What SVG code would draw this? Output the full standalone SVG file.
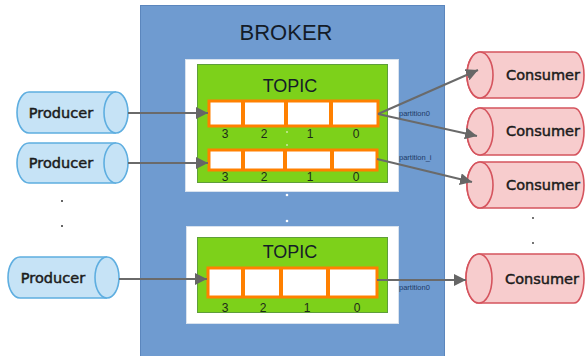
<svg xmlns="http://www.w3.org/2000/svg" width="586" height="356" viewBox="0 0 586 356">
  <style>
    .broker { fill: #6f9bd0; stroke: #5b86bd; stroke-width: 1; }
    .frame { fill: #ffffff; stroke: #d8e2ee; stroke-width: 1; }
    .topic { fill: #7dd11a; stroke: #5e9e3a; stroke-width: 1; }
    .part { fill: #ffffff; stroke: #ff8000; stroke-width: 3; }
    .div { stroke: #ff8000; stroke-width: 4; }
    .title { font-family: "Liberation Sans", Arial, sans-serif; fill: #141c28; text-anchor: middle; }
    .idx { font-family: "Liberation Sans", Arial, sans-serif; font-size: 12px; fill: #1e2a1a; text-anchor: middle; }
    .plabel { font-family: "Liberation Sans", Arial, sans-serif; font-size: 7.5px; fill: #1d3a66; }
    .prod { fill: #c6e3f6; stroke: #5eaee0; stroke-width: 1.6; }
    .cons { fill: #f7cccd; stroke: #d5545e; stroke-width: 1.6; }
    .name { font-family: "DejaVu Sans", "Noto Sans", sans-serif; font-size: 14.5px; fill: #1c1c1c; stroke: #1c1c1c; stroke-width: 0.5; text-anchor: middle; }
    .link { fill: none; stroke: #6a6a6a; stroke-width: 2; }
    .wdot { fill: #ffffff; }
    .kdot { fill: #333333; }
  </style>
  <defs>
    <marker id="arrow" markerUnits="userSpaceOnUse" markerWidth="12" markerHeight="12" viewBox="0 0 12 12" refX="12" refY="6" orient="auto">
      <path d="M0,0 L12,6 L0,12 Z" fill="#666666"/>
    </marker>
  </defs>

  <!-- broker container -->
  <g id="broker">
    <rect class="broker" x="140.5" y="5.5" width="304" height="360"/>
    <text class="title" x="286" y="40" font-size="22">BROKER</text>
    <circle class="wdot" cx="287" cy="195" r="1.3"/>
    <circle class="wdot" cx="287" cy="221" r="1.3"/>
  </g>

  <!-- first topic -->
  <g id="topic1">
    <rect class="frame" x="185.5" y="59.5" width="213" height="132"/>
    <rect class="topic" x="197.5" y="64.5" width="190" height="118"/>
    <text class="title" x="290" y="92" font-size="18">TOPIC</text>
    <rect class="part" x="209" y="101" width="169" height="25"/>
    <line class="div" x1="243" y1="100" x2="243" y2="127"/>
    <line class="div" x1="286" y1="100" x2="286" y2="127"/>
    <line class="div" x1="331" y1="100" x2="331" y2="127"/>
    <text class="idx" x="225" y="138">3</text>
    <text class="idx" x="264" y="138">2</text>
    <text class="idx" x="310" y="138">1</text>
    <text class="idx" x="356" y="138">0</text>
    <circle class="wdot" cx="287" cy="132" r="0.8"/>
    <circle class="wdot" cx="287" cy="145" r="0.8"/>
    <rect class="part" x="209" y="150" width="168" height="20"/>
    <line class="div" x1="243" y1="149" x2="243" y2="171"/>
    <line class="div" x1="285" y1="149" x2="285" y2="171"/>
    <line class="div" x1="332" y1="149" x2="332" y2="171"/>
    <text class="idx" x="225" y="181">3</text>
    <text class="idx" x="264" y="181">2</text>
    <text class="idx" x="310" y="181">1</text>
    <text class="idx" x="356" y="181">0</text>
  </g>

  <!-- second topic -->
  <g id="topic2">
    <rect class="frame" x="186.5" y="226.5" width="212" height="97"/>
    <rect class="topic" x="197.5" y="237.5" width="190" height="75"/>
    <text class="title" x="290" y="258" font-size="18">TOPIC</text>
    <rect class="part" x="208" y="268" width="169" height="29"/>
    <line class="div" x1="243" y1="267" x2="243" y2="298"/>
    <line class="div" x1="281" y1="267" x2="281" y2="298"/>
    <line class="div" x1="328" y1="267" x2="328" y2="298"/>
    <text class="idx" x="225" y="312">3</text>
    <text class="idx" x="263" y="312">2</text>
    <text class="idx" x="307" y="312">1</text>
    <text class="idx" x="357" y="312">0</text>
  </g>

  <!-- producers -->
  <g id="producer1">
    <path class="prod" d="M29,92 H116 A12,20.5 0 0 1 116,133 H29 A12,20.5 0 0 1 29,92 Z"/>
    <path class="prod" d="M116,92 A12,20.5 0 0 0 116,133"/>
    <text class="name" x="61" y="118">Producer</text>
  </g>
  <g id="producer2">
    <path class="prod" d="M29,143 H116 A12,20 0 0 1 116,183 H29 A12,20 0 0 1 29,143 Z"/>
    <path class="prod" d="M116,143 A12,20 0 0 0 116,183"/>
    <text class="name" x="61" y="168">Producer</text>
  </g>
  <g id="producer3">
    <path class="prod" d="M20,257 H107 A12,20.5 0 0 1 107,298 H20 A12,20.5 0 0 1 20,257 Z"/>
    <path class="prod" d="M107,257 A12,20.5 0 0 0 107,298"/>
    <text class="name" x="53" y="283">Producer</text>
  </g>
  <g id="producer-dots">
    <circle class="kdot" cx="62" cy="201" r="1"/>
    <circle class="kdot" cx="62" cy="226" r="1"/>
  </g>

  <!-- consumers -->
  <g id="consumer1">
    <path class="cons" d="M480,52 H574 A10,23 0 0 1 574,98 H480 A13,23 0 0 1 480,52 Z"/>
    <ellipse class="cons" cx="480" cy="75" rx="13" ry="23"/>
    <text class="name" x="543" y="80">Consumer</text>
  </g>
  <g id="consumer2">
    <path class="cons" d="M480,108 H574 A10,23.5 0 0 1 574,155 H480 A13,23.5 0 0 1 480,108 Z"/>
    <ellipse class="cons" cx="480" cy="131.5" rx="13" ry="23.5"/>
    <text class="name" x="543" y="136">Consumer</text>
  </g>
  <g id="consumer3">
    <path class="cons" d="M480,162 H574 A10,23 0 0 1 574,208 H480 A13,23 0 0 1 480,162 Z"/>
    <ellipse class="cons" cx="480" cy="185" rx="13" ry="23"/>
    <text class="name" x="543" y="190">Consumer</text>
  </g>
  <g id="consumer4">
    <path class="cons" d="M479,254 H574 A10,24.5 0 0 1 574,303 H479 A13,24.5 0 0 1 479,254 Z"/>
    <ellipse class="cons" cx="479" cy="278.5" rx="13" ry="24.5"/>
    <text class="name" x="542" y="284">Consumer</text>
  </g>
  <g id="consumer-dots">
    <circle class="kdot" cx="533" cy="218" r="0.9"/>
    <circle class="kdot" cx="533" cy="243" r="0.9"/>
  </g>

  <!-- connectors -->
  <g id="connectors">
    <line class="link" x1="128" y1="113" x2="208" y2="113" marker-end="url(#arrow)"/>
    <line class="link" x1="128" y1="163" x2="208" y2="163" marker-end="url(#arrow)"/>
    <line class="link" x1="119" y1="279" x2="207" y2="279" marker-end="url(#arrow)"/>
    <line class="link" x1="378" y1="114" x2="478" y2="70" marker-end="url(#arrow)"/>
    <line class="link" x1="378" y1="114" x2="477" y2="136" marker-end="url(#arrow)"/>
    <line class="link" x1="377" y1="159" x2="472" y2="182" marker-end="url(#arrow)"/>
    <line class="link" x1="377" y1="280" x2="466" y2="280" marker-end="url(#arrow)"/>
    <text class="plabel" x="399" y="116">partition0</text>
    <text class="plabel" x="399" y="160">partition_i</text>
    <text class="plabel" x="399" y="290">partition0</text>
  </g>
</svg>
